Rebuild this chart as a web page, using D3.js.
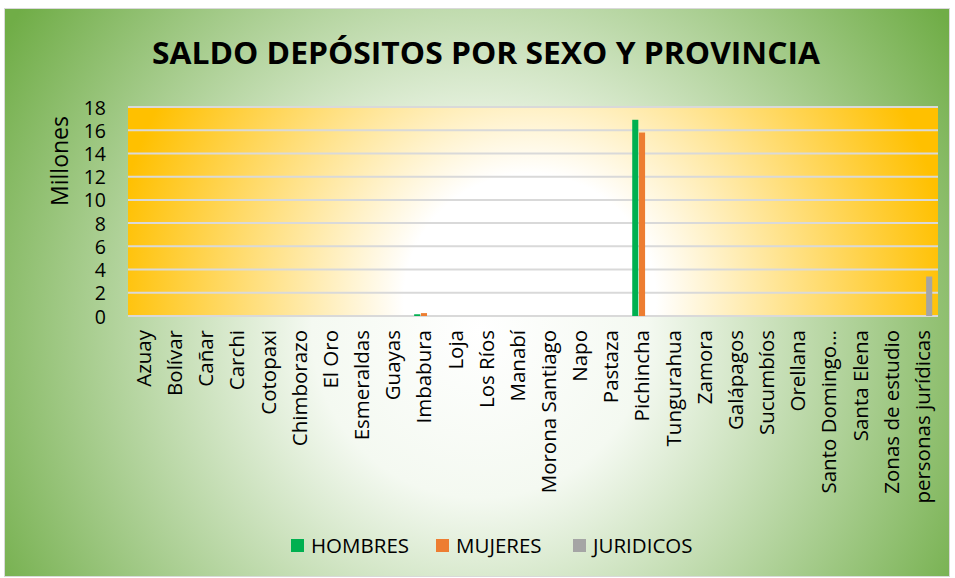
<!DOCTYPE html>
<html>
<head>
<meta charset="utf-8">
<script src="https://cdn.jsdelivr.net/npm/d3@7"></script>
<style>
  body { margin: 0; background: #fff; }
  text { font-family: "Open Sans", "DejaVu Sans", sans-serif; fill: #000; }
</style>
</head>
<body>
<svg id="chart" width="955" height="578"></svg>
<script>
// datos
var provincias = ["Azuay", "Bolívar", "Cañar", "Carchi", "Cotopaxi", "Chimborazo", "El Oro",
    "Esmeraldas", "Guayas", "Imbabura", "Loja", "Los Ríos", "Manabí", "Morona Santiago", "Napo",
    "Pastaza", "Pichincha", "Tungurahua", "Zamora", "Galápagos", "Sucumbíos", "Orellana",
    "Santo Domingo…", "Santa Elena", "Zonas de estudio", "personas jurídicas"];
var hombres = [0, 0, 0, 0, 0, 0, 0, 0, 0, 0.15, 0, 0, 0, 0, 0, 0, 16.9, 0, 0, 0, 0, 0, 0, 0, 0, 0];
var mujeres = [0, 0, 0, 0, 0, 0, 0, 0, 0, 0.25, 0, 0, 0, 0, 0, 0, 15.8, 0, 0, 0, 0, 0, 0, 0, 0, 0];
var juridicos = [0, 0, 0, 0, 0, 0, 0, 0, 0, 0, 0, 0, 0, 0, 0, 0, 0, 0, 0, 0, 0, 0, 0, 0, 0, 3.4];
var series = ["HOMBRES", "MUJERES", "JURIDICOS"];
var yTicks = [0, 2, 4, 6, 8, 10, 12, 14, 16, 18];

var colores = ["#00b050", "#ed7d31", "#a5a5a5"];
var svg = d3.select("#chart");

// gradientes de fondo
var defs = svg.append("defs");
var gOut = defs.append("radialGradient").attr("id", "bgOut")
    .attr("gradientUnits", "userSpaceOnUse")
    .attr("cx", 480).attr("cy", 330).attr("r", 560);
gOut.append("stop").attr("offset", "0").attr("stop-color", "#ffffff");
gOut.append("stop").attr("offset", "0.3").attr("stop-color", "#f4f9f1");
gOut.append("stop").attr("offset", "1").attr("stop-color", "#70ad47");

var gIn = defs.append("radialGradient").attr("id", "bgIn")
    .attr("gradientUnits", "userSpaceOnUse")
    .attr("cx", 530).attr("cy", 300).attr("r", 420);
gIn.append("stop").attr("offset", "0").attr("stop-color", "#ffffff");
gIn.append("stop").attr("offset", "0.3").attr("stop-color", "#ffffff");
gIn.append("stop").attr("offset", "1").attr("stop-color", "#ffc000");

svg.append("rect")
    .attr("x", 4.5).attr("y", 8.5).attr("width", 945).attr("height", 568)
    .attr("fill", "url(#bgOut)").attr("stroke", "#d9d9d9");

var plotLeft = 128, plotRight = 938, plotTop = 107, plotBottom = 316;

var x = d3.scaleBand().domain(provincias).range([plotLeft, plotRight]).paddingInner(0.37).paddingOuter(0.185);
var xSub = d3.scaleBand().domain(series).range([0, x.bandwidth()]).paddingInner(0.1);
var y = d3.scaleLinear().domain([0, 18]).range([plotBottom, plotTop]);

svg.append("rect")
    .attr("x", plotLeft).attr("y", plotTop).attr("width", plotRight - plotLeft).attr("height", plotBottom - plotTop)
    .attr("fill", "url(#bgIn)");

// lineas de cuadricula
svg.append("g").selectAll("line").data(yTicks).join("line")
    .attr("x1", plotLeft).attr("x2", plotRight)
    .attr("y1", function(d) { return y(d); }).attr("y2", function(d) { return y(d); })
    .attr("stroke", "#d9d9d9").attr("stroke-width", 2);

// barras
var valores = [hombres, mujeres, juridicos];
series.forEach(function(s, i) {
    svg.append("g").selectAll("rect").data(valores[i]).join("rect")
        .attr("x", function(d, j) { return x(provincias[j]) + xSub(s); })
        .attr("width", xSub.bandwidth())
        .attr("y", function(d) { return y(d); })
        .attr("height", function(d) { return y(0) - y(d); })
        .attr("fill", colores[i]);
});

// eje y
var yAxis = svg.append("g").attr("transform", "translate(" + (plotLeft - 22) + ",0)")
    .call(d3.axisLeft(y).tickValues(yTicks).tickSize(0).tickPadding(0));
yAxis.select(".domain").remove();
yAxis.selectAll("text").style("font-size", "19.5px").style("font-family", "'Open Sans', sans-serif")
    .attr("dy", "0.36em");

// eje x
var xAxis = svg.append("g").attr("transform", "translate(0," + (plotBottom + 14) + ")")
    .call(d3.axisBottom(x).tickSize(0).tickPadding(0));
xAxis.select(".domain").remove();
xAxis.selectAll("text")
    .style("font-size", "20.5px").style("font-family", "'Open Sans', sans-serif")
    .attr("text-anchor", "end").attr("dy", "0.36em")
    .attr("transform", "rotate(-90)").attr("x", 0).attr("y", 0);

// titulo
svg.append("text")
    .attr("x", 486).attr("y", 64)
    .attr("text-anchor", "middle")
    .style("font-size", "31px").style("font-weight", "bold")
    .attr("textLength", 668).attr("lengthAdjust", "spacingAndGlyphs")
    .text("SALDO DEPÓSITOS POR SEXO Y PROVINCIA");

svg.append("text")
    .attr("transform", "translate(68,161) rotate(-90)")
    .attr("text-anchor", "middle")
    .style("font-size", "23px")
    .text("Millones");

// leyenda
var legX = [291, 436, 573];
var leg = svg.append("g").selectAll("g").data(series).join("g")
    .attr("transform", function(d, i) { return "translate(" + legX[i] + ",539)"; });
leg.append("rect").attr("width", 13).attr("height", 13)
    .attr("fill", function(d, i) { return colores[i]; });
leg.append("text").attr("x", 20).attr("y", 7).attr("dy", "0.36em")
    .style("font-size", "20.5px")
    .text(function(d) { return d; });
</script>
</body>
</html>
